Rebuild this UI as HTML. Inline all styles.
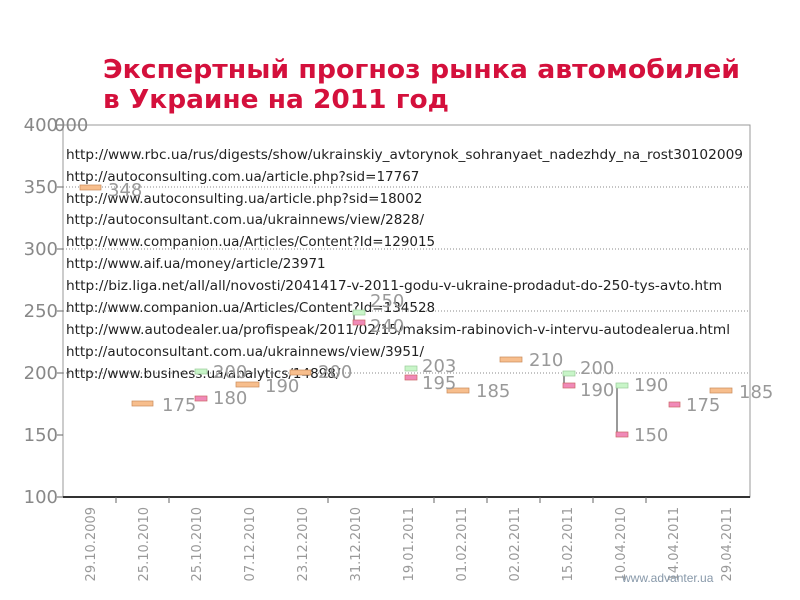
<!DOCTYPE html>
<html><head><meta charset="utf-8"><style>
html,body{margin:0;padding:0;background:#fff;width:800px;height:600px;overflow:hidden}
</style></head><body>
<svg width="800" height="600" xmlns="http://www.w3.org/2000/svg" font-family="'DejaVu Sans','Liberation Sans',sans-serif">
<text x="103" y="78" font-family="'DejaVu Sans',sans-serif" font-weight="bold" font-size="26" fill="#d4103c" textLength="637" lengthAdjust="spacingAndGlyphs">Экспертный прогноз рынка автомобилей</text>
<text x="103" y="108" font-family="'DejaVu Sans',sans-serif" font-weight="bold" font-size="26" fill="#d4103c" textLength="346" lengthAdjust="spacingAndGlyphs">в Украине на 2011 год</text>
<!-- plot frame -->
<rect x="63" y="125" width="687" height="372" fill="none" stroke="#999" stroke-width="1"/>
<line x1="63" y1="497" x2="750" y2="497" stroke="#333" stroke-width="2"/>
<g stroke="#888" stroke-dasharray="1,2">
<line x1="63" y1="187" x2="750" y2="187"/>
<line x1="63" y1="249" x2="750" y2="249"/>
<line x1="63" y1="311" x2="750" y2="311"/>
<line x1="63" y1="373" x2="750" y2="373"/>
</g>
<g stroke="#666">
<line x1="57" y1="125" x2="63" y2="125"/><line x1="57" y1="187" x2="63" y2="187"/><line x1="57" y1="249" x2="63" y2="249"/><line x1="57" y1="311" x2="63" y2="311"/><line x1="57" y1="373" x2="63" y2="373"/><line x1="57" y1="435" x2="63" y2="435"/><line x1="57" y1="497" x2="63" y2="497"/>
<line x1="116" y1="497" x2="116" y2="503"/><line x1="169" y1="497" x2="169" y2="503"/><line x1="328" y1="497" x2="328" y2="503"/><line x1="434" y1="497" x2="434" y2="503"/><line x1="487" y1="497" x2="487" y2="503"/><line x1="540" y1="497" x2="540" y2="503"/><line x1="593" y1="497" x2="593" y2="503"/><line x1="646" y1="497" x2="646" y2="503"/>
</g>
<g font-size="18" fill="#888" text-anchor="end">
<text x="58" y="131">400</text><text x="58" y="193">350</text><text x="58" y="255">300</text><text x="58" y="317">250</text><text x="58" y="379">200</text><text x="58" y="441">150</text><text x="58" y="503">100</text>
</g>
<text x="54" y="131" font-size="18" fill="#888">000</text>
<!-- URLs -->
<g font-size="13.5" fill="#222">
<text x="66" y="159" textLength="677" lengthAdjust="spacingAndGlyphs">http://www.rbc.ua/rus/digests/show/ukrainskiy_avtorynok_sohranyaet_nadezhdy_na_rost30102009</text>
<text x="66" y="181">http://autoconsulting.com.ua/article.php?sid=17767</text>
<text x="66" y="203">http://www.autoconsulting.ua/article.php?sid=18002</text>
<text x="66" y="224">http://autoconsultant.com.ua/ukrainnews/view/2828/</text>
<text x="66" y="246">http://www.companion.ua/Articles/Content?Id=129015</text>
<text x="66" y="268">http://www.aif.ua/money/article/23971</text>
<text x="66" y="290" textLength="656" lengthAdjust="spacingAndGlyphs">http://biz.liga.net/all/all/novosti/2041417-v-2011-godu-v-ukraine-prodadut-do-250-tys-avto.htm</text>
<text x="66" y="312">http://www.companion.ua/Articles/Content?Id=134528</text>
<text x="66" y="334" textLength="664" lengthAdjust="spacingAndGlyphs">http://www.autodealer.ua/profispeak/2011/02/15/maksim-rabinovich-v-intervu-autodealerua.html</text>
<text x="66" y="356">http://autoconsultant.com.ua/ukrainnews/view/3951/</text>
<text x="66" y="378">http://www.business.ua/analytics/14898/</text>
</g>
<!-- series -->
<g stroke="#777" stroke-width="1.5">
<line x1="354" y1="312" x2="354" y2="322"/>
<line x1="564" y1="373" x2="564" y2="385"/>
<line x1="617" y1="385" x2="617" y2="434"/>
</g>
<g fill="#f7be8d" stroke="#c98a5a" stroke-width="0.7">
<rect x="80" y="185" width="21" height="5"/>
<rect x="132" y="401" width="21" height="5"/>
<rect x="236" y="382" width="23" height="5"/>
<rect x="290" y="370" width="21" height="5"/>
<rect x="447" y="388" width="22" height="5"/>
<rect x="500" y="357" width="22" height="5"/>
<rect x="710" y="388" width="22" height="5"/>
</g>
<g fill="#c8f5c8" stroke="#9c9" stroke-width="0.7">
<rect x="195" y="369" width="12" height="5"/>
<rect x="353" y="310" width="12" height="5"/>
<rect x="405" y="366" width="12" height="5"/>
<rect x="563" y="371" width="12" height="5"/>
<rect x="616" y="383" width="12" height="5"/>
</g>
<g fill="#f08ab8" stroke="#c66" stroke-width="0.7">
<rect x="195" y="396" width="12" height="5"/>
<rect x="353" y="320" width="12" height="5"/>
<rect x="405" y="375" width="12" height="5"/>
<rect x="563" y="383" width="12" height="5"/>
<rect x="616" y="432" width="12" height="5"/>
<rect x="669" y="402" width="11" height="5"/>
</g>
<g font-size="18" fill="#999">
<text x="108" y="196">348</text>
<text x="162" y="411">175</text>
<text x="213" y="378">200</text>
<text x="213" y="404">180</text>
<text x="265" y="392">190</text>
<text x="318" y="378">200</text>
<text x="370" y="307">250</text>
<text x="370" y="332">240</text>
<text x="422" y="372">203</text>
<text x="422" y="389">195</text>
<text x="476" y="397">185</text>
<text x="529" y="366">210</text>
<text x="580" y="374">200</text>
<text x="580" y="396">190</text>
<text x="634" y="391">190</text>
<text x="634" y="441">150</text>
<text x="686" y="411">175</text>
<text x="739" y="398">185</text>
</g>
<!-- dates -->
<g font-size="13" fill="#999" text-anchor="end">
<text transform="translate(95,507) rotate(-90)">29.10.2009</text>
<text transform="translate(148,507) rotate(-90)">25.10.2010</text>
<text transform="translate(201,507) rotate(-90)">25.10.2010</text>
<text transform="translate(254,507) rotate(-90)">07.12.2010</text>
<text transform="translate(307,507) rotate(-90)">23.12.2010</text>
<text transform="translate(360,507) rotate(-90)">31.12.2010</text>
<text transform="translate(413,507) rotate(-90)">19.01.2011</text>
<text transform="translate(466,507) rotate(-90)">01.02.2011</text>
<text transform="translate(519,507) rotate(-90)">02.02.2011</text>
<text transform="translate(572,507) rotate(-90)">15.02.2011</text>
<text transform="translate(625,507) rotate(-90)">10.04.2010</text>
<text transform="translate(678,507) rotate(-90)">14.04.2011</text>
<text transform="translate(731,507) rotate(-90)">29.04.2011</text>
</g>
<text x="622" y="582" font-family="'Liberation Sans',sans-serif" font-size="12" fill="#8899aa">www.advanter.ua</text>
</svg>
</body></html>
